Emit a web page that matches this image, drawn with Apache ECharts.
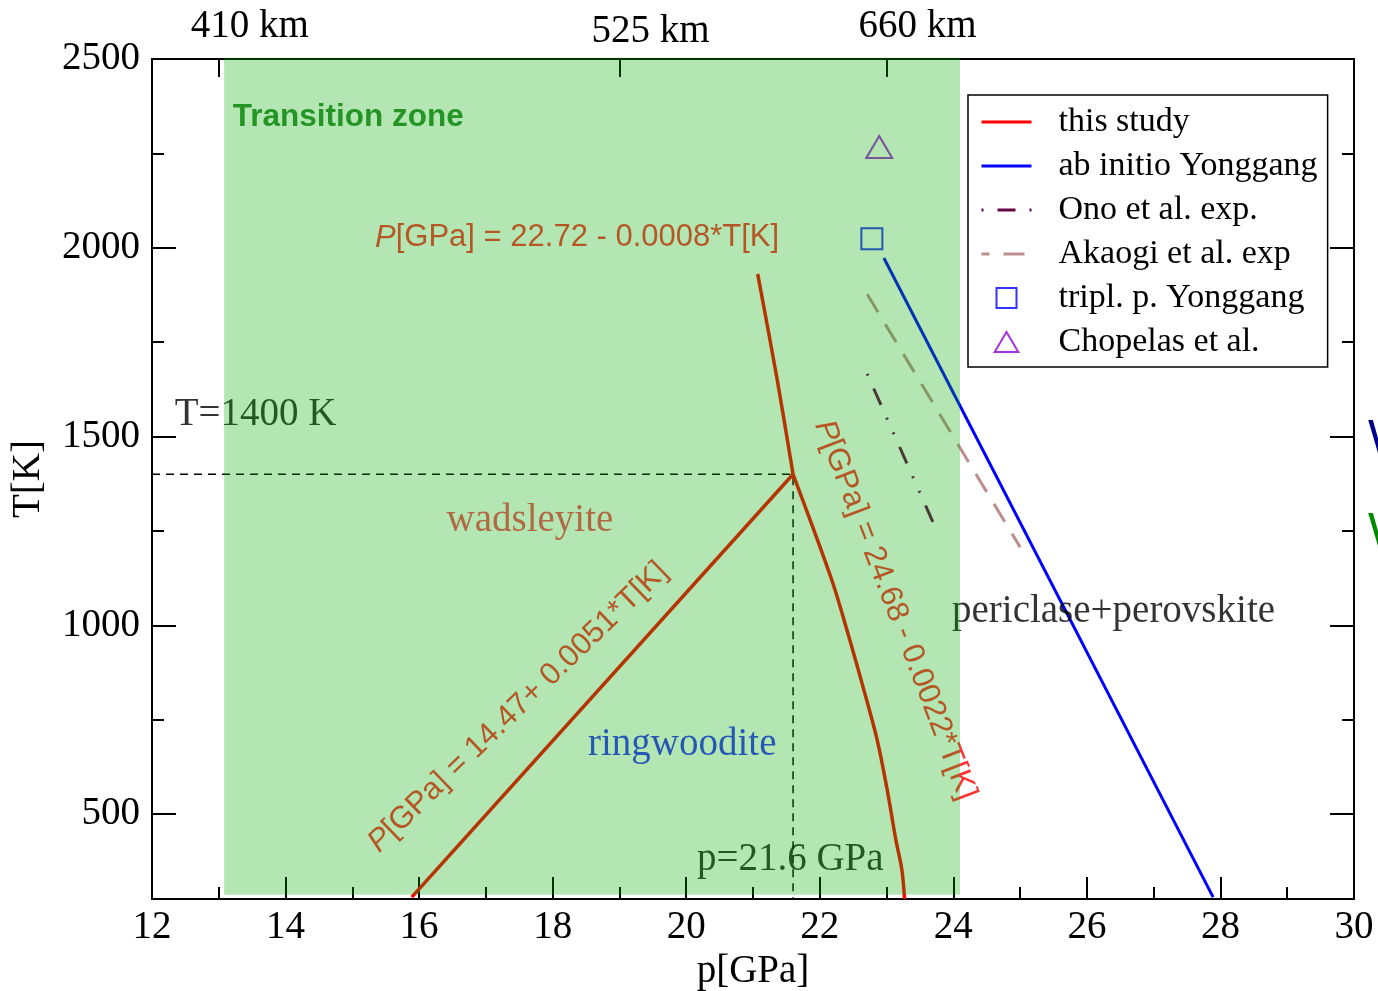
<!DOCTYPE html>
<html>
<head>
<meta charset="utf-8">
<script src="https://cdn.jsdelivr.net/npm/echarts@6/dist/echarts.min.js"></script>
<style>
  html, body { margin: 0; padding: 0; background: #fff; }
  #chart { width: 1378px; height: 991px; }
</style>
</head>
<body>
<div id="chart"></div>
<script>
// Phase boundaries of Mg2SiO4 in the p–T plane: x = p [GPa], y = T [K]
const thisStudyWadsRing = [[15.89, 280], [21.6, 1400]];
const thisStudyWadsPost = [[21.07, 1931], [21.36, 1653], [21.6, 1400]];
const thisStudyRingPost = [[21.6, 1400], [22.18, 1120], [22.45, 961], [22.66, 829], [22.86, 696],
  [23.01, 564], [23.14, 431], [23.23, 352], [23.27, 275]];
const abInitioYonggang = [[22.96, 1973], [27.89, 280]];
const onoExp = [[22.71, 1666], [23.72, 1263]];
const akaogiExp = [[22.71, 1877], [25.0, 1207]];
const triplePointYonggang = [[22.78, 2024]];
const chopelas = [[22.89, 2267]];

// Transition zone band: [pFrom, pTo, TFrom, TTo]
const transitionZone = [[13.08, 24.1, 286, 2503]];

// Triple point of this study
const tripleP = 21.6;
const tripleT = 1400;

// Axis ticks
const depthTicks = [13, 19, 23];
const depthLabels = ['410 km', '525 km', '660 km'];
const tMajor = [500, 1000, 1500, 2000, 2500];
const tMinor = [750, 1250, 1750, 2250];

const SERIF = 'Liberation Serif';
const SANS = 'Liberation Sans';
const AXIS_LINE = { color: '#000', width: 2 };
const TICK_LINE = { color: '#000', width: 2 };
const RED = '#ff0000';

const chart = echarts.init(document.getElementById('chart'), null, { renderer: 'canvas' });

function note(x, t, text, label) {
  return {
    value: [x, t],
    label: Object.assign({
      show: true,
      formatter: text,
      position: [0, 0],
      align: 'left',
      verticalAlign: 'middle',
      fontFamily: SERIF,
      fontSize: 39,
      color: '#000'
    }, label)
  };
}

function eqLabel(x, t, text, rotate, align) {
  return note(x, t, '{i|P}' + text, {
    fontFamily: SANS,
    fontSize: 31,
    color: RED,
    rotate: rotate,
    align: align,
    rich: { i: { fontFamily: SANS, fontSize: 31, fontStyle: 'italic', color: RED } }
  });
}

function boundary(data, smooth) {
  return {
    name: 'this study',
    type: 'line',
    data: data,
    symbol: 'none',
    smooth: smooth,
    lineStyle: { color: RED, width: 3.5 },
    itemStyle: { color: RED },
    z: 2
  };
}

const yBase = {
  type: 'value',
  min: 275,
  max: 2500,
  splitLine: { show: false },
  axisLine: { show: true, onZero: false, lineStyle: AXIS_LINE }
};

const noSymbol = { color: 'rgba(0,0,0,0)', borderWidth: 0, opacity: 0 };

const option = {
  animation: false,
  backgroundColor: '#fff',
  grid: { left: 152, top: 59, width: 1202, height: 840, containLabel: false, outerBoundsMode: 'none' },
  xAxis: [
    {
      type: 'value',
      position: 'bottom',
      min: 12,
      max: 30,
      interval: 2,
      splitLine: { show: false },
      axisLine: { show: true, onZero: false, lineStyle: AXIS_LINE },
      axisTick: { show: true, inside: true, length: 22, lineStyle: TICK_LINE },
      minorTick: { show: true, splitNumber: 2, length: 12, lineStyle: TICK_LINE },
      axisLabel: { fontFamily: SERIF, fontSize: 39, color: '#000', margin: 9, formatter: v => String(v) },
      name: 'p[GPa]',
      nameLocation: 'middle',
      nameGap: 49,
      nameTextStyle: { fontFamily: SERIF, fontSize: 39, color: '#000' }
    },
    {
      type: 'value',
      position: 'top',
      min: 12,
      max: 30,
      splitLine: { show: false },
      axisLine: { show: true, onZero: false, lineStyle: AXIS_LINE },
      axisTick: { show: true, inside: true, length: 18, lineStyle: TICK_LINE, customValues: depthTicks },
      axisLabel: {
        customValues: depthTicks,
        formatter: v => {
          const i = depthTicks.indexOf(v);
          return (i === 1 ? '{low|' : '{up|') + depthLabels[i] + '}';
        },
        fontFamily: SERIF, fontSize: 39, color: '#000', margin: 8,
        padding: [0, 0, 0, 62],
        rich: {
          up: { fontFamily: SERIF, fontSize: 39, color: '#000', padding: [0, 0, 5, 0] },
          low: { fontFamily: SERIF, fontSize: 39, color: '#000', padding: [0, 0, 0, 0] }
        }
      }
    }
  ],
  yAxis: [
    Object.assign({}, yBase, {
      position: 'left',
      axisTick: { show: true, inside: true, length: 24, lineStyle: TICK_LINE, customValues: tMajor },
      axisLabel: { customValues: tMajor, fontFamily: SERIF, fontSize: 39, color: '#000', margin: 12, formatter: v => String(v) },
      name: 'T[K]',
      nameLocation: 'middle',
      nameRotate: 90,
      nameGap: 104,
      nameTextStyle: { fontFamily: SERIF, fontSize: 39, color: '#000' }
    }),
    Object.assign({}, yBase, {
      position: 'left',
      axisTick: { show: true, inside: true, length: 12, lineStyle: TICK_LINE, customValues: tMinor },
      axisLabel: { show: false }
    }),
    Object.assign({}, yBase, {
      position: 'right',
      axisTick: { show: true, inside: true, length: 24, lineStyle: TICK_LINE, customValues: tMajor },
      axisLabel: { show: false }
    }),
    Object.assign({}, yBase, {
      position: 'right',
      axisTick: { show: true, inside: true, length: 12, lineStyle: TICK_LINE, customValues: tMinor },
      axisLabel: { show: false }
    })
  ],
  legend: {
    orient: 'vertical',
    left: 968,
    top: 95,
    selectedMode: false,
    symbolKeepAspect: true,
    backgroundColor: '#fff',
    borderColor: '#000',
    borderWidth: 1.5,
    borderRadius: 0,
    padding: [10, 10, 8, 12],
    itemWidth: 50,
    itemHeight: 20,
    itemGap: 10,
    lineStyle: { width: 3 },
    textStyle: { fontFamily: SERIF, fontSize: 34, color: '#000', lineHeight: 34, padding: [0, 0, 0, 22] },
    data: [
      { name: 'this study', itemStyle: noSymbol },
      { name: 'ab initio Yonggang', itemStyle: noSymbol },
      { name: 'Ono et al. exp.', itemStyle: noSymbol },
      { name: 'Akaogi et al. exp', itemStyle: noSymbol },
      {
        name: 'tripl. p. Yonggang',
        icon: 'path://M0,0L20,0L20,20L0,20Z',
        itemStyle: { color: 'rgba(0,0,0,0)', borderColor: '#0000ff', borderWidth: 2 }
      },
      {
        name: 'Chopelas et al.',
        icon: 'path://M13,0L26,22L0,22Z',
        itemStyle: { color: 'rgba(0,0,0,0)', borderColor: '#9400d3', borderWidth: 2 }
      }
    ]
  },
  graphic: [
    { type: 'text', x: 1368, y: 440, z: 1, style: { text: 'W', font: '48px "Liberation Sans"', fill: '#00008b', verticalAlign: 'middle' } },
    { type: 'text', x: 1368, y: 533, z: 1, style: { text: 'W', font: '48px "Liberation Sans"', fill: '#008b00', verticalAlign: 'middle' } }
  ],
  series: [
    {
      name: 'guides',
      type: 'line',
      data: [[12, tripleT], [tripleP, tripleT], [tripleP, 275]],
      symbol: 'none',
      silent: true,
      lineStyle: { color: '#000', width: 1.5, type: [8, 6] },
      z: 2
    },
    boundary(thisStudyWadsRing, false),
    boundary(thisStudyWadsPost, 0.3),
    boundary(thisStudyRingPost, 0.3),
    {
      name: 'ab initio Yonggang',
      type: 'line',
      data: abInitioYonggang,
      symbol: 'none',
      lineStyle: { color: '#0000ff', width: 3 },
      itemStyle: { color: '#0000ff' },
      z: 2
    },
    {
      name: 'Ono et al. exp.',
      type: 'line',
      data: onoExp,
      symbol: 'none',
      lineStyle: { color: '#670748', width: 3, type: [18, 14, 2, 14, 2, 14], dashOffset: 48 },
      itemStyle: { color: '#670748' },
      z: 2
    },
    {
      name: 'Akaogi et al. exp',
      type: 'line',
      data: akaogiExp,
      symbol: 'none',
      lineStyle: { color: '#bc8f8f', width: 3, type: [21, 14] },
      itemStyle: { color: '#bc8f8f' },
      z: 2
    },
    {
      name: 'tripl. p. Yonggang',
      type: 'scatter',
      data: triplePointYonggang,
      symbol: 'rect',
      symbolSize: 21,
      itemStyle: { color: 'rgba(0,0,0,0)', borderColor: '#0000ff', borderWidth: 2 },
      z: 2
    },
    {
      name: 'Chopelas et al.',
      type: 'scatter',
      data: chopelas,
      symbol: 'triangle',
      symbolSize: [26, 22],
      itemStyle: { color: 'rgba(0,0,0,0)', borderColor: '#9400d3', borderWidth: 2 },
      z: 2
    },
    {
      name: 'notes',
      type: 'scatter',
      symbolSize: 0,
      silent: true,
      z: 3,
      data: [
        note(12.34, 1557, 'T=1400 K'),
        note(19.94, 683, 'ringwoodite', { align: 'center', color: '#0000ff' }),
        note(23.98, 1035, 'periclase+perovskite'),
        note(20.16, 378, 'p=21.6 GPa'),
        eqLabel(15.34, 2026, '[GPa] = 22.72 - 0.0008*T[K]', 0, 'left'),
        eqLabel(17.48, 783, '[GPa] = 14.47+ 0.0051*T[K]', 44, 'center'),
        eqLabel(23.13, 1040, '[GPa] = 24.68 - 0.0022*T[K]', -69, 'center')
      ]
    },
    {
      name: 'zone',
      type: 'custom',
      silent: true,
      clip: false,
      z: 10,
      data: transitionZone,
      encode: { x: [0, 1], y: [2, 3] },
      renderItem: function (params, api) {
        const p0 = api.coord([api.value(0), api.value(3)]);
        const p1 = api.coord([api.value(1), api.value(2)]);
        return {
          type: 'rect',
          shape: { x: p0[0], y: p0[1], width: p1[0] - p0[0], height: p1[1] - p0[1] },
          style: { fill: 'rgba(5,172,5,0.3)' }
        };
      }
    },
    {
      name: 'zone notes',
      type: 'scatter',
      symbolSize: 0,
      silent: true,
      z: 11,
      data: [
        note(13.21, 2346, 'Transition zone', { fontFamily: SANS, fontWeight: 'bold', fontSize: 31.5, color: '#007f00' }),
        note(17.66, 1276, 'wadsleyite', { align: 'center', color: '#b04a28' })
      ]
    }
  ]
};

chart.setOption(option);
</script>
</body>
</html>
